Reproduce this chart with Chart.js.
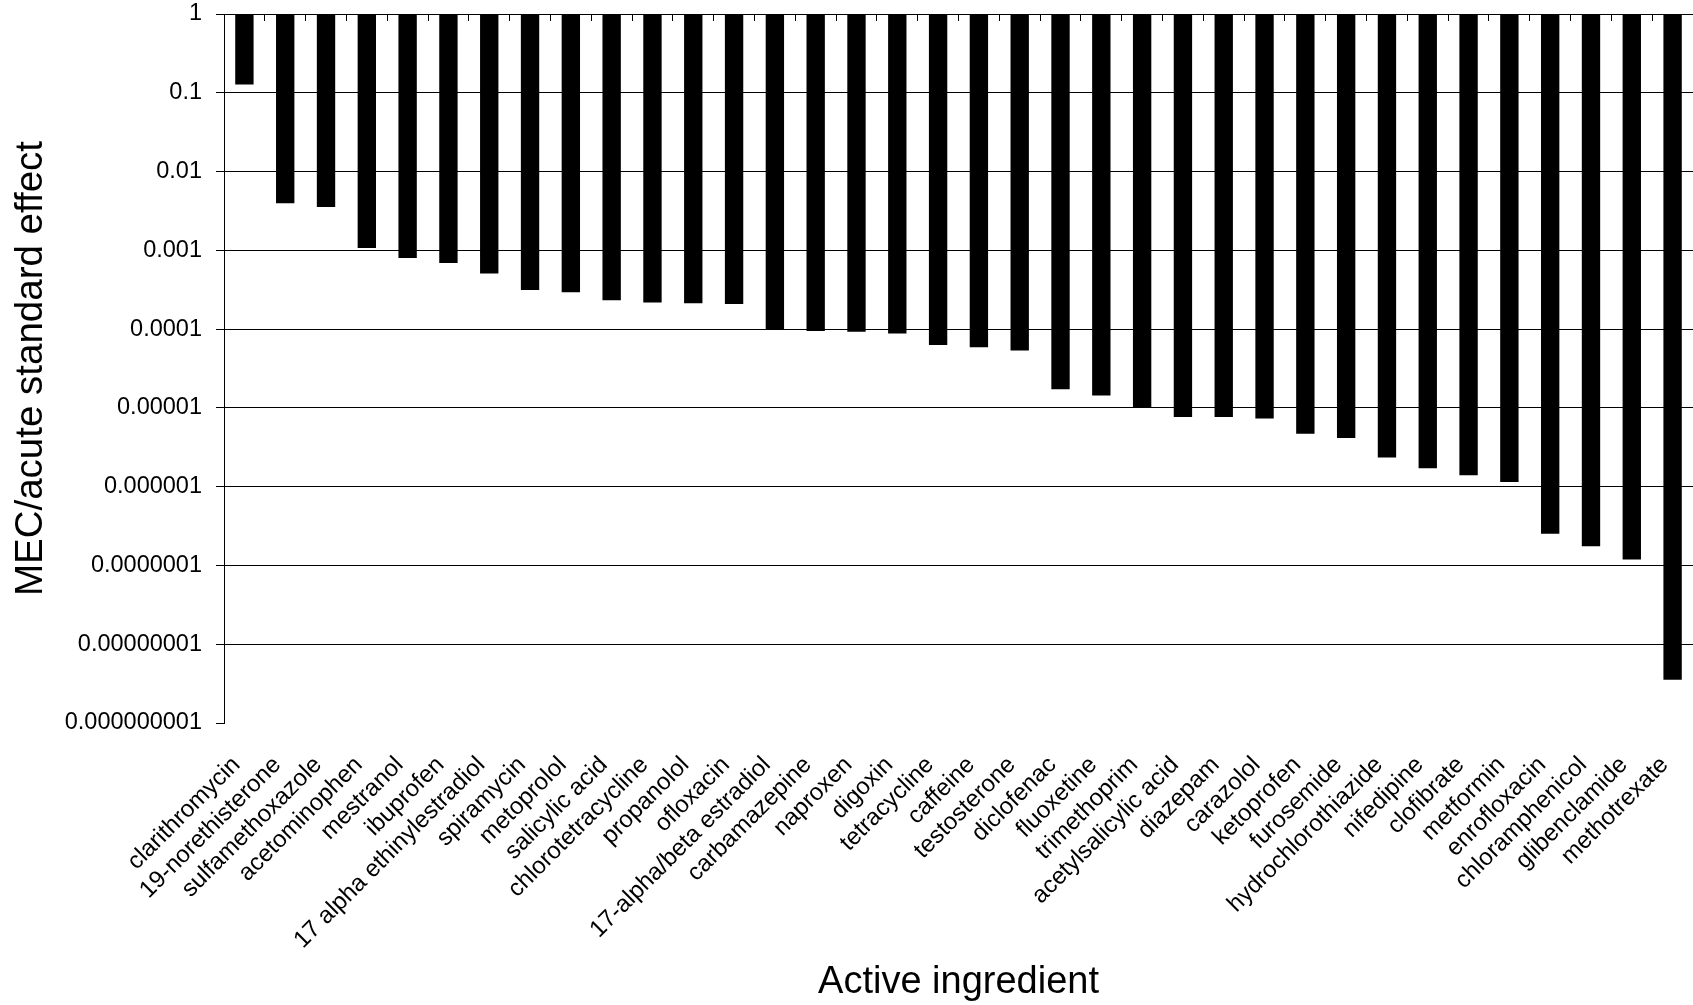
<!DOCTYPE html>
<html>
<head>
<meta charset="utf-8">
<script src="https://cdn.jsdelivr.net/npm/chart.js@4"></script>
<style>
  html, body { margin: 0; padding: 0; background: #fff; }
  #wrap { width: 1693px; height: 1005px; position: relative; }
</style>
</head>
<body>
<div id="wrap"><canvas id="c"></canvas></div>
<script>
const ingredients = [
  'clarithromycin', '19-norethisterone', 'sulfamethoxazole', 'acetominophen', 'mestranol',
  'ibuprofen', '17 alpha ethinylestradiol', 'spiramycin', 'metoprolol', 'salicylic acid',
  'chlorotetracycline', 'propanolol', 'ofloxacin', '17-alpha/beta estradiol', 'carbamazepine',
  'naproxen', 'digoxin', 'tetracycline', 'caffeine', 'testosterone',
  'diclofenac', 'fluoxetine', 'trimethoprim', 'acetylsalicylic acid', 'diazepam',
  'carazolol', 'ketoprofen', 'furosemide', 'hydrochlorothiazide', 'nifedipine',
  'clofibrate', 'metformin', 'enrofloxacin', 'chloramphenicol', 'glibenclamide',
  'methotrexate'
];
const mecRatio = [
  0.127, 0.00395, 0.00356, 0.00107, 0.000801,
  0.000692, 0.000507, 0.000314, 0.000294, 0.000232,
  0.000217, 0.000213, 0.000209, 0.0000986, 0.0000944,
  0.0000925, 0.000088, 0.0000627, 0.000059, 0.0000536,
  0.0000172, 0.0000144, 0.0000100, 0.00000765, 0.00000765,
  0.00000736, 0.00000469, 0.00000416, 0.00000234, 0.00000171,
  0.00000140, 0.00000115, 0.000000252, 0.000000175, 0.000000119,
  0.00000000354
];
const barTop = 1;
const yTickValues = [1e-9, 1e-8, 1e-7, 1e-6, 1e-5, 1e-4, 1e-3, 1e-2, 1e-1, 1];
const yTickLabels = ['0.000000001', '0.00000001', '0.0000001', '0.000001', '0.00001',
                     '0.0001', '0.001', '0.01', '0.1', '1'];
const xTitle = 'Active ingredient';
const yTitle = 'MEC/acute standard effect';

const FONT = "'Liberation Sans', Arial, sans-serif";

new Chart(document.getElementById('c'), {
  type: 'bar',
  data: {
    labels: ingredients,
    datasets: [{
      data: mecRatio.map(v => [v, barTop]),
      backgroundColor: '#000',
      borderWidth: 0,
      barPercentage: 0.9,
      categoryPercentage: 0.5,
      xAxisID: 'x',
      yAxisID: 'y'
    }]
  },
  options: {
    responsive: true,
    maintainAspectRatio: false,
    animation: false,
    devicePixelRatio: 1,
    layout: { padding: { top: 14, left: 0, right: 0, bottom: 0 } },
    plugins: { legend: { display: false }, tooltip: { enabled: false } },
    scales: {
      x: {
        type: 'category',
        position: 'bottom',
        offset: true,
        grid: { display: false, drawTicks: false },
        border: { display: false },
        ticks: {
          color: '#000',
          font: { family: FONT, size: 24 },
          maxRotation: 45,
          minRotation: 45,
          autoSkip: false,
          padding: 28,
          labelOffset: -8
        },
        title: {
          display: true,
          text: xTitle,
          color: '#000',
          font: { family: FONT, size: 38 },
          padding: { top: 0, bottom: 0 }
        },
        afterFit: (s) => { s.height = 282; s.paddingLeft = 0; s.paddingRight = 0; }
      },
      x2: {
        type: 'category',
        position: 'top',
        offset: true,
        grid: {
          display: true,
          drawOnChartArea: false,
          offset: true,
          tickLength: -7,
          color: '#000',
          lineWidth: 1
        },
        border: { display: true, color: '#000', width: 1 },
        ticks: { display: false },
        afterFit: (s) => { s.height = 0; }
      },
      y: {
        type: 'logarithmic',
        position: 'left',
        min: 1e-9,
        max: 1,
        afterBuildTicks: (s) => { s.ticks = yTickValues.map(v => ({ value: v })); },
        grid: {
          color: (ctx) => (ctx.tick && ctx.tick.value === yTickValues[0]) ? 'rgba(0,0,0,0)' : '#000',
          tickColor: '#000',
          lineWidth: 1,
          tickLength: 8,
          drawTicks: true
        },
        border: { display: true, color: '#000', width: 1 },
        ticks: {
          color: '#000',
          font: { family: FONT, size: 23.5 },
          padding: 14,
          autoSkip: false,
          callback: (value) => {
            const i = yTickValues.findIndex(t => Math.abs(Math.log10(t) - Math.log10(value)) < 1e-6);
            return i >= 0 ? yTickLabels[i] : '';
          }
        },
        title: {
          display: true,
          text: yTitle,
          color: '#000',
          font: { family: FONT, size: 38.5 },
          padding: { top: 8, bottom: 0 }
        },
        afterFit: (s) => { s.width = 224; s.paddingTop = 0; s.paddingBottom = 0; }
      }
    }
  }
});
</script>
</body>
</html>
